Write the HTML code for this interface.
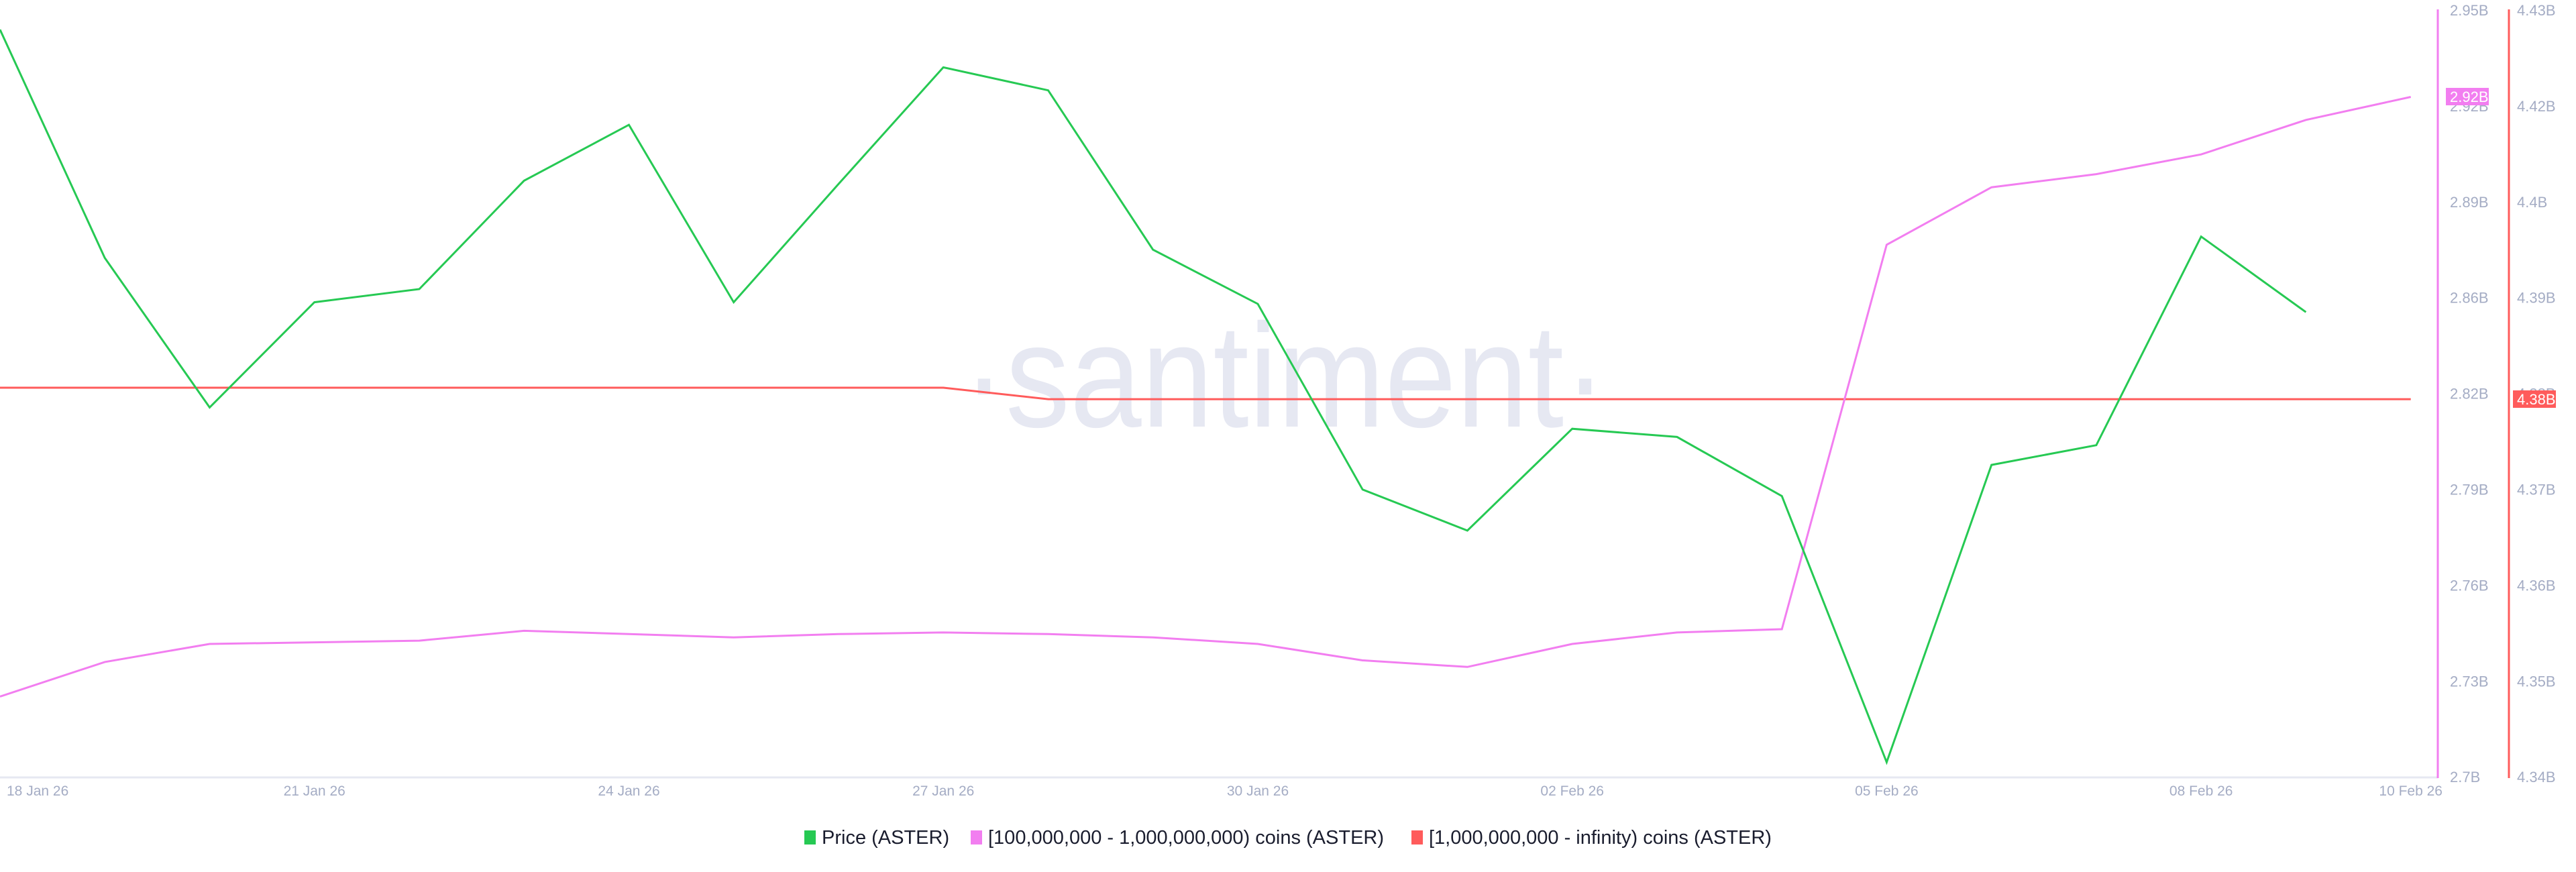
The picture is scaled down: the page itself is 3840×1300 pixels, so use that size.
<!DOCTYPE html>
<html><head><meta charset="utf-8"><style>
html,body{margin:0;padding:0;background:#fff;}
svg{display:block;font-family:"Liberation Sans",sans-serif;}
</style></head><body>
<svg id="s" width="3840" height="1300" viewBox="0 0 3840 1300" xmlns="http://www.w3.org/2000/svg">
<rect width="3840" height="1300" fill="#fff"/>
<text x="1435" y="636" font-size="220" fill="#e6e8f2" textLength="960" lengthAdjust="spacingAndGlyphs">·santiment·</text>
<line x1="0" y1="1159" x2="3634" y2="1159" stroke="#e6e8f2" stroke-width="3"/>
<line x1="3634" y1="14" x2="3634" y2="1160" stroke="#f27ef0" stroke-width="3"/>
<line x1="3740" y1="14" x2="3740" y2="1160" stroke="#ff5b5b" stroke-width="3"/>
<g id="g"></g>
<g font-size="29" fill="#1a1d2e">
<rect x="1199" y="1238" width="17" height="21" fill="#26c953"/>
<text x="1225" y="1258">Price (ASTER)</text>
<rect x="1447" y="1238" width="17" height="21" fill="#f27ef0"/>
<text x="1473" y="1258">[100,000,000 - 1,000,000,000) coins (ASTER)</text>
<rect x="2104" y="1238" width="17" height="21" fill="#ff5b5b"/>
<text x="2130" y="1258">[1,000,000,000 - infinity) coins (ASTER)</text>
</g>
</svg>
<script>
var S=2.449,dx=63.8*S;
function pts(a){return a.map(function(y,i){return (i*dx).toFixed(1)+','+(y*S).toFixed(1)}).join(' ');}
var price=[18,157,248,184,176,110,76,184,112,41,55,152,185,298,323,261,266,302,464,283,271,144,190];
var pink=[424,403,392,391,390,384,386,388,386,385,386,388,392,402,406,392,385,383,149,114,106,94,73,59];
var red=[236,236,236,236,236,236,236,236,236,236,243,243,243,243,243,243,243,243,243,243,243,243,243,243];
var h='';
h+='<polyline fill="none" stroke="#ff5b5b" stroke-width="3" points="'+pts(red)+'"/>';
h+='<polyline fill="none" stroke="#f27ef0" stroke-width="3" points="'+pts(pink)+'"/>';
h+='<polyline fill="none" stroke="#26c953" stroke-width="3" points="'+pts(price)+'"/>';
var pl=['2.95B','2.92B','2.89B','2.86B','2.82B','2.79B','2.76B','2.73B','2.7B'];
var rl=['4.43B','4.42B','4.4B','4.39B','4.38B','4.37B','4.36B','4.35B','4.34B'];
for(var i=0;i<9;i++){var y=15+i*142.9+8;
h+='<text x="3652" y="'+y+'" font-size="22" fill="#a4acc4">'+pl[i]+'</text>';
h+='<text x="3752" y="'+y+'" font-size="22" fill="#a4acc4">'+rl[i]+'</text>';}
h+='<rect x="3646" y="131" width="64" height="26" fill="#f27ef0"/><text x="3652" y="152" font-size="22" fill="#fff">2.92B</text>';
h+='<rect x="3746" y="582" width="64" height="26" fill="#ff5b5b"/><text x="3752" y="603" font-size="22" fill="#fff">4.38B</text>';
var d=[['18 Jan 26',0,'start'],['21 Jan 26',3],['24 Jan 26',6],['27 Jan 26',9],['30 Jan 26',12],['02 Feb 26',15],['05 Feb 26',18],['08 Feb 26',21],['10 Feb 26',23]];
d.forEach(function(t){var x=t[1]*dx;var a=t[2]||'middle';if(t[1]==0)x=10;
h+='<text x="'+x.toFixed(1)+'" y="1186" font-size="21" fill="#a4acc4" text-anchor="'+a+'">'+t[0]+'</text>';});
document.getElementById('g').innerHTML=h;
</script>
</body></html>
